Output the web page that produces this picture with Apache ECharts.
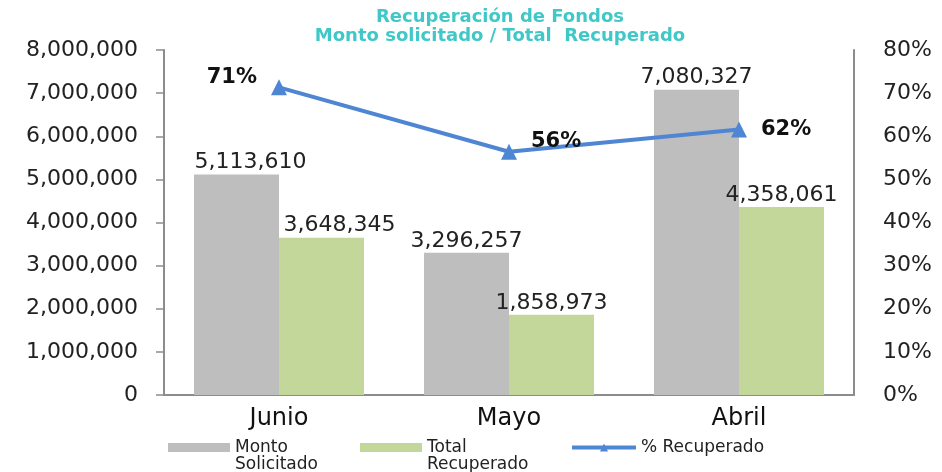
<!DOCTYPE html>
<html>
<head>
<meta charset="utf-8">
<script src="https://cdn.jsdelivr.net/npm/echarts@6/dist/echarts.min.js"></script>
<style>
  html, body { margin: 0; padding: 0; background: #fff; }
  #main { width: 942px; height: 472px; }
</style>
</head>
<body>
<div id="main"></div>
<script>
window.addEventListener('load', function(){

  const meses = ['Junio', 'Mayo', 'Abril'];
  const montoSolicitado = [5113610, 3296257, 7080327];
  const totalRecuperado = [3648345, 1858973, 4358061];
  const pctRecuperado = [0.7135, 0.564, 0.6155];
  const pctLabelPos = ['left', 'right', 'right'];

  var chart = echarts.init(document.getElementById('main'));
  const font = 'DejaVu Sans';
  const fmtNum = v => v.toLocaleString('en-US');
  const legendText = { fontSize: 17, color: '#222', fontFamily: font, lineHeight: 17 };
  // primera línea del texto alineada con el icono, como en Excel
  const twoLine = name => ' \n' + name;

  chart.setOption({
    animation: false,
    textStyle: { fontFamily: font },
    title: {
      text: 'Recuperación de Fondos\nMonto solicitado / Total  Recuperado',
      left: 500, top: 4, padding: [4, 0],
      textAlign: 'center',
      textStyle: { color: '#40C8C8', fontSize: 18, fontWeight: 'bold', lineHeight: 19, fontFamily: font }
    },
    legend: [
      {
        top: 422, left: 168, padding: 0,
        itemWidth: 62, itemHeight: 9,
        textStyle: legendText, formatter: twoLine,
        data: [{ name: 'Monto\nSolicitado', icon: 'rect' }]
      },
      {
        top: 422, left: 360, padding: 0,
        itemWidth: 62, itemHeight: 9,
        textStyle: legendText, formatter: twoLine,
        data: [{ name: 'Total\nRecuperado', icon: 'rect' }]
      },
      {
        top: 439, left: 570, padding: 0,
        itemWidth: 64, itemHeight: 10,
        lineStyle: { width: 4, color: '#4F86D3' },
        textStyle: legendText,
        data: ['% Recuperado']
      }
    ],
    grid: { left: 164, right: 88, top: 50, bottom: 77 },
    xAxis: {
      type: 'category',
      data: meses,
      axisLine: { lineStyle: { color: '#8c8c8c', width: 2 } },
      axisTick: { show: false },
      axisLabel: { fontSize: 24, color: '#111', margin: 12 }
    },
    yAxis: [
      {
        type: 'value', min: 0, max: 8000000, interval: 1000000,
        splitLine: { show: false },
        axisLine: { show: true, lineStyle: { color: '#8c8c8c', width: 2 } },
        axisTick: { show: true, length: 8, lineStyle: { color: '#8c8c8c', width: 1.5 } },
        axisLabel: { fontSize: 22, color: '#222', margin: 26, formatter: fmtNum }
      },
      {
        type: 'value', min: 0, max: 0.8, interval: 0.1,
        splitLine: { show: false },
        axisLine: { show: true, lineStyle: { color: '#8c8c8c', width: 2 } },
        axisTick: { show: false },
        axisLabel: { fontSize: 22, color: '#222', margin: 29, formatter: v => Math.round(v * 100) + '%' }
      }
    ],
    series: [
      {
        name: 'Monto\nSolicitado', type: 'bar',
        data: montoSolicitado.map((v, i) => ({ value: v, label: { offset: [i === 0 ? 14 : 0, 0] } })),
        barWidth: 85, barGap: '0%',
        itemStyle: { color: '#BEBEBE' },
        label: { show: true, position: 'top', distance: 1, fontSize: 22, color: '#222', formatter: p => fmtNum(p.value) }
      },
      {
        name: 'Total\nRecuperado', type: 'bar',
        data: totalRecuperado.map((v, i) => ({ value: v, label: { offset: [i === 0 ? 18 : 0, 0] } })),
        barWidth: 85, barGap: '0%',
        itemStyle: { color: '#C4D79B' },
        label: { show: true, position: 'top', distance: 1, fontSize: 22, color: '#222', formatter: p => fmtNum(p.value) }
      },
      {
        name: '% Recuperado', type: 'line',
        yAxisIndex: 1,
        data: pctRecuperado.map((v, i) => ({
          value: v,
          label: { position: pctLabelPos[i], offset: i === 2 ? [0, 0] : [0, -10] }
        })),
        symbol: 'triangle', symbolSize: 16,
        lineStyle: { color: '#4F86D3', width: 4 },
        itemStyle: { color: '#4F86D3' },
        label: {
          show: true, fontSize: 21, fontWeight: 'bold', color: '#111', distance: 14,
          formatter: p => Math.round(p.value * 100) + '%'
        }
      }
    ]
  });
});
</script>
</body>
</html>
